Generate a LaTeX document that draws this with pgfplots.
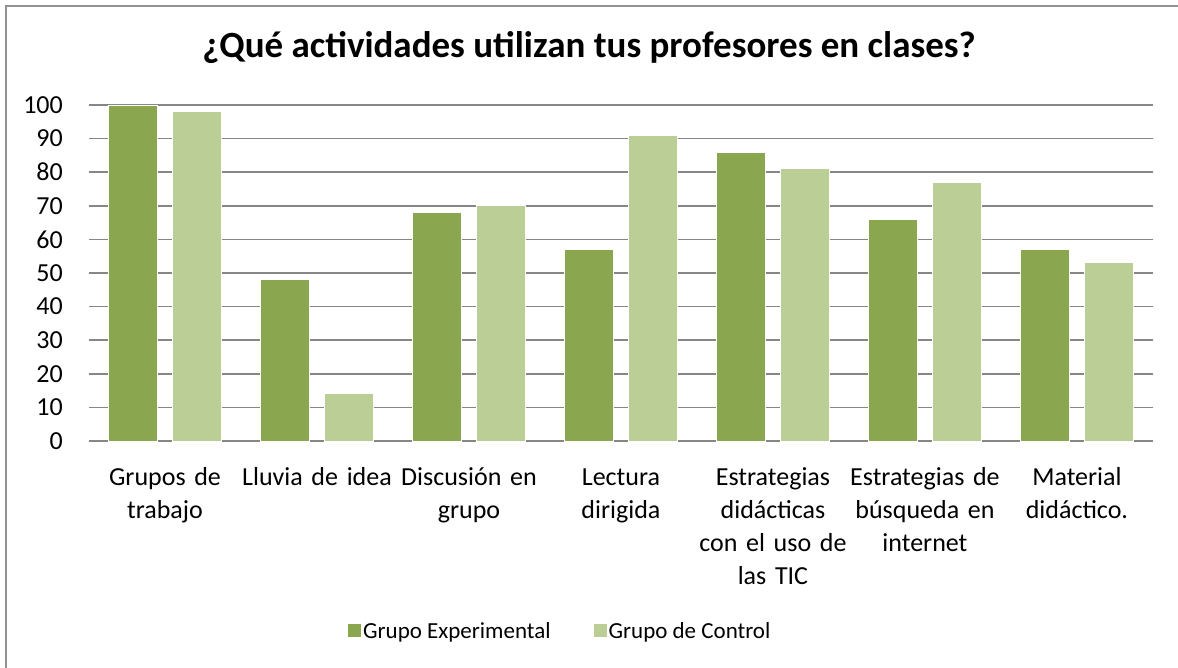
\documentclass[border=0pt]{standalone}
\usepackage{fontspec}
\setmainfont{Carlito}
\usepackage{pgfplots}
\pgfplotsset{compat=1.18}
\definecolor{expgreen}{HTML}{8AA64F}
\definecolor{ctlgreen}{HTML}{BACE96}
\definecolor{gridgray}{HTML}{868686}
\pgfplotsset{
  sqlegend/.style={legend image code/.code={\fill[##1, draw=none] (0bp,-6.5bp) rectangle (13bp,6.5bp);}},
}
\begin{document}
\begin{tikzpicture}[x=1bp,y=1bp]
\useasboundingbox (0,0) rectangle (1178,-668);
\fill[white] (0,0) rectangle (1178,-668);
\draw[color=gridgray!90, line width=1.5bp] (6,-668) -- (6,-6.75);
\draw[color=gridgray!90, line width=1.5bp] (5.25,-6) -- (1178,-6);
\begin{axis}[
  at={(89bp,-441bp)}, anchor=south west,
  scale only axis, width=1064bp, height=336bp,
  ybar=15bp, bar width=49bp,
  xmin=-0.5, xmax=6.5, ymin=0, ymax=100,
  xtick={0,1,2,3,4,5,6},
  ytick={0,10,...,100},
  ymajorgrids, grid style={gridgray, line width=1.5bp},
  axis line style={draw=none},
  major tick length=0pt,
  tick label style={font=\fontsize{26bp}{33bp}\selectfont},
  /pgf/number format/assume math mode=true,
  yticklabel style={anchor=east, inner sep=0pt, xshift=-26bp},
  xticklabel style={align=center, anchor=north, inner sep=0pt, yshift=-21bp, text width=160bp},
  xticklabels={{\strut Grupos de\\trabajo},{\strut Lluvia de idea},{\strut Discusión en\\grupo},{\strut Lectura\\dirigida},{\strut Estrategias\\didácticas\\con el uso de\\las TIC},{\strut Estrategias de\\búsqueda en\\internet},{\strut Material\\didáctico.}},
  title={¿Qué actividades utilizan tus profesores en clases?},
  title style={font=\bfseries\fontsize{37bp}{44bp}\selectfont, at={(0.470,1.125)}, anchor=base},
  legend style={draw=none, at={(0.443,-0.565)}, anchor=center, legend columns=-1,
    font=\fontsize{23bp}{28bp}\selectfont,
    /tikz/every even column/.append style={column sep=41bp}},
]
\addplot[fill=expgreen, draw=white, line width=1bp, sqlegend] coordinates {(0,100) (1,48) (2,68) (3,57) (4,86) (5,66) (6,57)};
\addplot[fill=ctlgreen, draw=white, line width=1bp, sqlegend] coordinates {(0,98) (1,14) (2,70) (3,91) (4,81) (5,77) (6,53)};
\legend{Grupo Experimental, Grupo de Control}
\end{axis}
\end{tikzpicture}
\end{document}
